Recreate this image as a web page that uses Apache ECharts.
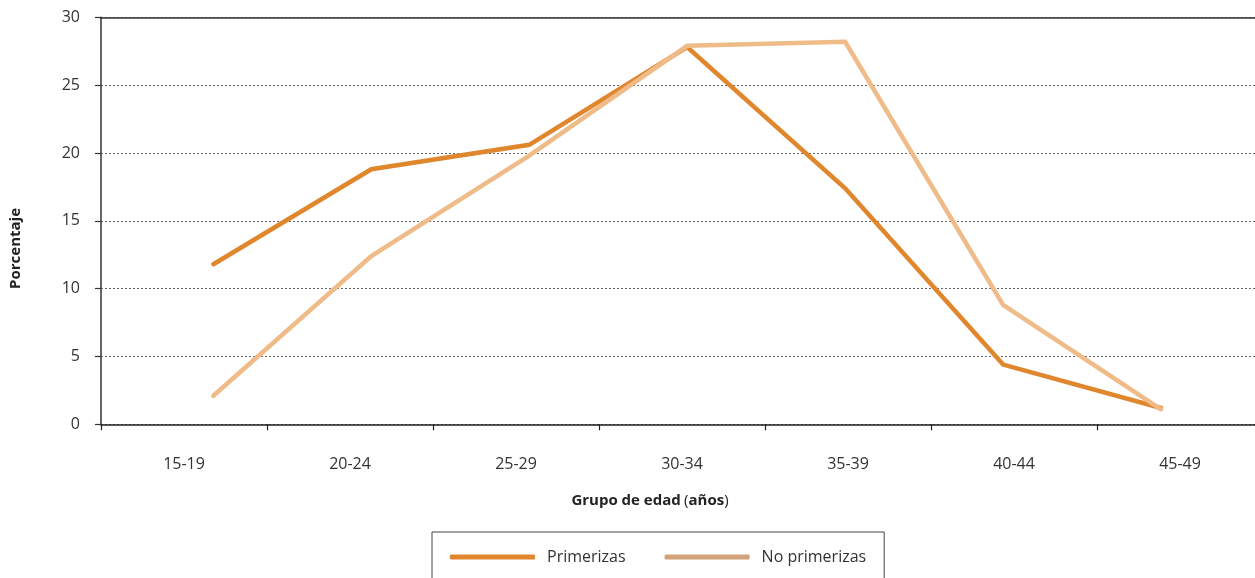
<!DOCTYPE html>
<html>
<head>
<meta charset="utf-8">
<script src="https://cdn.jsdelivr.net/npm/echarts@6/dist/echarts.min.js"></script>
<style>
html,body{margin:0;padding:0;background:#fff;overflow:hidden;width:1255px;height:578px;}
#chart{width:1263px;height:578px;}
</style>
</head>
<body>
<div id="chart"></div>
<script>
const categories = ['15-19','20-24','25-29','30-34','35-39','40-44','45-49'];
const primerizas = [11.8, 18.8, 20.6, 27.8, 17.4, 4.4, 1.2];
const noPrimerizas = [2.1, 12.4, 19.8, 27.9, 28.2, 8.8, 1.1];
const yTicks = [0, 5, 10, 15, 20, 25, 30];

const FONT = '"Open Sans", sans-serif';
const TXT = '#333';
const cPrim = '#E0862D';
const cNoPrim = '#EFBB88';
const cNoPrimLegend = '#D2A27A';

const chart = echarts.init(document.getElementById('chart'), null, {renderer: 'canvas'});
const option = {
  backgroundColor: '#fff',
  animation: false,
  textStyle: {fontFamily: FONT},
  grid: [
    {left: 101, width: 1162, top: 17.3, height: 407, containLabel: false},
    {left: 134.4, width: 1105.6, top: 17.3, height: 407, containLabel: false}
  ],
  xAxis: [
    {
      type: 'category', gridIndex: 0, data: categories, boundaryGap: true,
      axisLine: {show: true, lineStyle: {color: '#222', width: 1.5}},
      axisTick: {show: true, length: 6, alignWithLabel: false, lineStyle: {color: '#222', width: 1.2}},
      axisLabel: {color: TXT, fontSize: 16, fontFamily: FONT, margin: 32, interval: 0},
      splitLine: {show: false}
    },
    {
      type: 'category', gridIndex: 1, data: categories, boundaryGap: true, show: false
    },
    {
      type: 'category', gridIndex: 0, data: categories, position: 'top',
      axisLine: {show: true, lineStyle: {color: '#333', width: 1.5}},
      axisTick: {show: false}, axisLabel: {show: false}, splitLine: {show: false}
    }
  ],
  yAxis: [
    {
      type: 'value', gridIndex: 0, min: yTicks[0], max: yTicks[yTicks.length - 1],
      interval: yTicks[1] - yTicks[0],
      axisLine: {show: true, lineStyle: {color: '#555', width: 1.8}},
      axisTick: {show: true, length: 6, lineStyle: {color: '#333', width: 1.2}},
      axisLabel: {color: TXT, fontSize: 16, fontFamily: FONT, margin: 21},
      splitLine: {show: true, lineStyle: {color: '#666', width: 1, type: [2, 2]}}
    },
    {
      type: 'value', gridIndex: 1, min: yTicks[0], max: yTicks[yTicks.length - 1], show: false,
      splitLine: {show: false}
    }
  ],
  legend: {
    left: 432, top: 532,
    padding: [17, 18, 40, 18],
    borderColor: '#444', borderWidth: 1,
    icon: 'roundRect',
    itemWidth: 85, itemHeight: 5, itemGap: 39,
    textStyle: {color: TXT, fontSize: 16, fontFamily: FONT, padding: [0, 0, 0, 7]},
    data: [
      {name: 'Primerizas'},
      {name: 'No primerizas', itemStyle: {color: cNoPrimLegend}}
    ]
  },
  graphic: [
    {
      type: 'text', left: 8, top: 208, rotation: Math.PI / 2,
      style: {text: 'Porcentaje', fontSize: 15, fontWeight: 'bold', fontFamily: FONT, fill: '#222'}
    },
    {
      type: 'text', x: 650, y: 501,
      style: {
        text: '{b|Grupo de edad} {n|(}{b|años}{n|)}',
        align: 'center', verticalAlign: 'middle',
        rich: {
          b: {fontSize: 15, fontWeight: 'bold', fontFamily: FONT, fill: '#222'},
          n: {fontSize: 15, fontWeight: 'normal', fontFamily: FONT, fill: '#222'}
        }
      }
    }
  ],
  series: [
    {
      name: 'Primerizas', type: 'line', xAxisIndex: 1, yAxisIndex: 1,
      data: primerizas, symbol: 'none', color: cPrim,
      lineStyle: {color: cPrim, width: 4.5, cap: 'round', join: 'miter'},
      z: 3
    },
    {
      name: 'No primerizas', type: 'line', xAxisIndex: 1, yAxisIndex: 1,
      data: noPrimerizas, symbol: 'none', color: cNoPrim,
      lineStyle: {color: cNoPrim, width: 4.5, cap: 'round', join: 'miter'},
      z: 4
    }
  ]
};
chart.setOption(option);
</script>
</body>
</html>
